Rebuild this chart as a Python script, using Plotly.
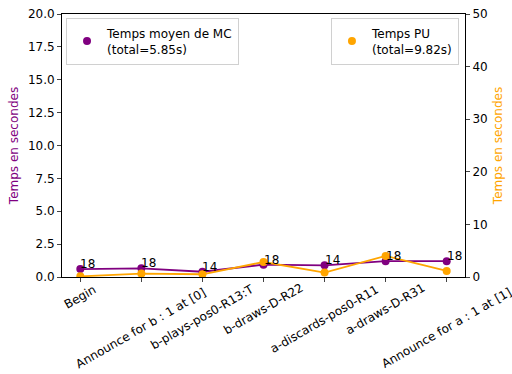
import plotly.graph_objects as go

# actions of the game, in order
actions = ["Begin", "Announce for b : 1 at [0]", "b-plays-pos0-R13:T", "b-draws-D-R22",
           "a-discards-pos0-R11", "a-draws-D-R31", "Announce for a : 1 at [1]"]
mc_mean = [0.60, 0.66, 0.40, 0.94, 0.89, 1.20, 1.20]   # left axis
pu_time = [0.12, 0.65, 0.52, 2.85, 0.85, 4.0, 1.15]    # right axis
counts = ["18", "18", "14", "18", "14", "18", "18"]
mc_label = "Temps moyen de MC<br>(total=5.85s)"
pu_label = "Temps PU<br>(total=9.82s)"

PURPLE = "purple"
ORANGE = "orange"
FONT = "DejaVu Sans"
FS = 12

xs = list(range(len(actions)))

fig = go.Figure()
fig.add_trace(go.Scatter(x=xs, y=mc_mean, mode="lines+markers", line=dict(color=PURPLE, width=1.8),
                         marker=dict(color=PURPLE, size=8), showlegend=False, yaxis="y"))
fig.add_trace(go.Scatter(x=xs, y=pu_time, mode="lines+markers", line=dict(color=ORANGE, width=1.8),
                         marker=dict(color=ORANGE, size=8), showlegend=False, yaxis="y2"))
# legend-only entries (marker only, like the original)
fig.add_trace(go.Scatter(x=[None], y=[None], mode="markers", marker=dict(color=PURPLE, size=8),
                         name=mc_label, legend="legend"))
fig.add_trace(go.Scatter(x=[None], y=[None], mode="markers", marker=dict(color=ORANGE, size=8),
                         name=pu_label, legend="legend2", yaxis="y2"))

annots = []
for i, c in enumerate(counts):
    annots.append(dict(x=xs[i], y=mc_mean[i], xref="x", yref="y", text=c, showarrow=False,
                       xanchor="left", yanchor="bottom", yshift=-4, xshift=-2,
                       font=dict(size=FS, color="black")))
# rotated tick labels, centred on their tick like matplotlib's rotation=30
for i, a in enumerate(actions):
    w = 0.52 * FS * len(a)
    depth = 7 + (w * 0.5 + FS * 0.866) / 2
    annots.append(dict(x=xs[i], y=0, xref="x", yref="paper", text=a, showarrow=False,
                       textangle=-30, xanchor="center", yanchor="middle", yshift=-depth,
                       font=dict(size=FS, color="black")))

legend_style = dict(bgcolor="white", bordercolor="#d0d0d0", borderwidth=1,
                    font=dict(family=FONT, size=FS, color="black"), tracegroupgap=0)

fig.update_layout(
    width=512, height=374,
    margin=dict(l=62, r=47, t=14, b=97),
    plot_bgcolor="white", paper_bgcolor="white",
    font=dict(family=FONT, size=FS, color="black"),
    xaxis=dict(range=[-0.3, 6.3], tickvals=xs, ticktext=[""] * len(xs), ticks="outside",
               ticklen=4, showgrid=False, zeroline=False, showline=True, linecolor="black",
               mirror=True, automargin=False),
    yaxis=dict(range=[0, 20], tickvals=[0, 2.5, 5, 7.5, 10, 12.5, 15, 17.5, 20],
               tickformat=".1f", ticks="outside", ticklen=4, showgrid=False, zeroline=False,
               showline=True, linecolor="black", automargin=False,
               title=dict(text="Temps en secondes", font=dict(color=PURPLE, size=FS), standoff=6)),
    yaxis2=dict(range=[0, 50], tickvals=[0, 10, 20, 30, 40, 50], overlaying="y", side="right",
                ticks="outside", ticklen=4, showgrid=False, zeroline=False, showline=True,
                linecolor="black", automargin=False,
                title=dict(text="Temps en secondes", font=dict(color=ORANGE, size=FS), standoff=6)),
    legend=dict(x=0.01, y=0.985, xanchor="left", yanchor="top", **legend_style),
    legend2=dict(x=0.985, y=0.985, xanchor="right", yanchor="top", **legend_style),
    annotations=annots,
)

# page body has an 8px default margin; drop it so the figure sits at the window corner
fig.write_html("out.html", config={"displayModeBar": False},
               post_script="document.body.style.margin='0';")
